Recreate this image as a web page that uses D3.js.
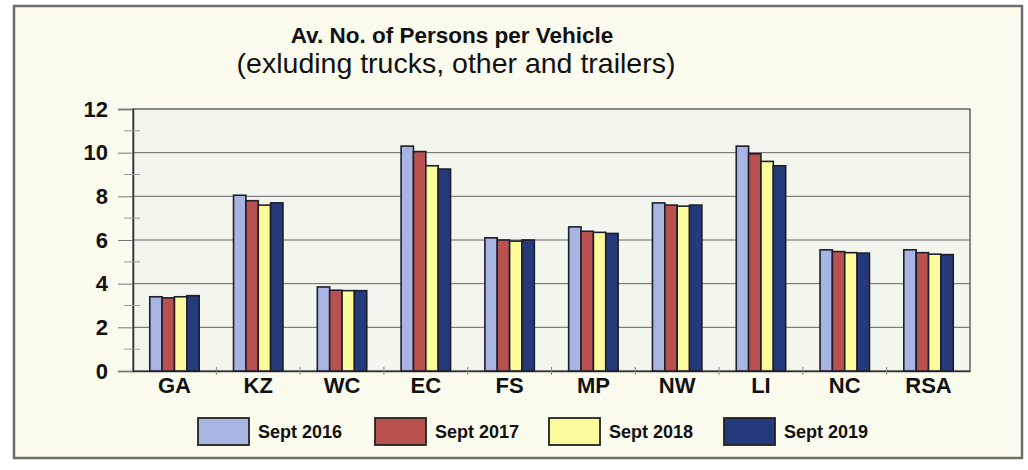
<!DOCTYPE html>
<html>
<head>
<meta charset="UTF-8">
<title>Av. No. of Persons per Vehicle</title>
<script src="https://cdnjs.cloudflare.com/ajax/libs/d3/7.8.5/d3.min.js"></script>
<style>
    body { margin: 0; background: #fff; font-family: "Liberation Sans", Arial, sans-serif; }
    svg { display: block; }
</style>
</head>
<body>
<svg id="chart" width="1028" height="470"></svg>
<script>
// chart data
const regions = ["GA", "KZ", "WC", "EC", "FS", "MP", "NW", "LI", "NC", "RSA"];
const seriesNames = ["Sept 2016", "Sept 2017", "Sept 2018", "Sept 2019"];
const sept2016 = [3.4, 8.05, 3.85, 10.3, 6.1, 6.6, 7.7, 10.3, 5.55, 5.55];
const sept2017 = [3.35, 7.8, 3.7, 10.05, 6.0, 6.4, 7.6, 9.95, 5.47, 5.42];
const sept2018 = [3.4, 7.6, 3.68, 9.4, 5.95, 6.35, 7.55, 9.6, 5.42, 5.35];
const sept2019 = [3.45, 7.7, 3.68, 9.25, 6.0, 6.3, 7.6, 9.4, 5.4, 5.33];
const yTicks = [0, 2, 4, 6, 8, 10, 12];
const colors = ["#a8b5e2", "#b9524f", "#fbfb9c", "#243a7a"];

const series = [sept2016, sept2017, sept2018, sept2019];

const svg = d3.select("#chart");

// outer frame
svg.append("rect")
    .attr("x", 14).attr("y", 6).attr("width", 1008).attr("height", 452)
    .attr("fill", "#fbfbee").attr("stroke", "#6f6f6f").attr("stroke-width", 2.5);

// titles
svg.append("text").attr("x", 452).attr("y", 43).attr("text-anchor", "middle")
    .style("font-size", "22.5px").attr("font-weight", "bold").attr("fill", "#111")
    .text("Av. No. of Persons per Vehicle");
svg.append("text").attr("x", 456).attr("y", 73).attr("text-anchor", "middle")
    .style("font-size", "28.5px").attr("fill", "#111")
    .text("(exluding trucks, other and trailers)");

const plotL = 133, plotR = 970, plotT = 109, plotB = 371;

const x = d3.scaleBand().domain(regions).range([plotL, plotR]).paddingInner(0.41).paddingOuter(0.2);
const xs = d3.scaleBand().domain(d3.range(4)).range([0, x.bandwidth()]);
const y = d3.scaleLinear().domain([0, 12]).range([plotB, plotT]);

// plot area
svg.append("rect")
    .attr("x", plotL).attr("y", plotT).attr("width", plotR - plotL).attr("height", plotB - plotT)
    .attr("fill", "#f3f6ec").attr("stroke", "#444").attr("stroke-width", 1.2);

// gridlines
svg.append("g").selectAll("line").data(yTicks.slice(1, -1)).join("line")
    .attr("x1", plotL).attr("x2", plotR)
    .attr("y1", d => y(d)).attr("y2", d => y(d))
    .attr("stroke", "#666").attr("stroke-width", 1);

// y axis
const yAxis = svg.append("g").attr("transform", `translate(${plotL},0)`)
    .call(d3.axisLeft(y).tickValues(yTicks).tickSize(15).tickPadding(10));
yAxis.select(".domain").attr("stroke", "#333").attr("stroke-width", 1.5);
yAxis.selectAll(".tick line").attr("stroke", "#777");
yAxis.selectAll("text")
    .style("font-size", "22px").style("font-weight", "bold")
    .style("font-family", "'Liberation Sans', Arial, sans-serif").attr("fill", "#111");

// minor ticks
svg.append("g").selectAll("line").data(d3.range(1, 12, 2)).join("line")
    .attr("x1", plotL - 9).attr("x2", plotL + 7)
    .attr("y1", d => y(d)).attr("y2", d => y(d))
    .attr("stroke", "#999").attr("stroke-width", 1);

// x axis
const xAxis = svg.append("g").attr("transform", `translate(0,${plotB})`)
    .call(d3.axisBottom(x).tickSize(0).tickPadding(6));
xAxis.select(".domain").attr("stroke", "#333").attr("stroke-width", 1.5);
xAxis.selectAll("text")
    .style("font-size", "22px").style("font-weight", "bold")
    .style("font-family", "'Liberation Sans', Arial, sans-serif").attr("fill", "#111");

// category separators on x axis
svg.append("g").selectAll("line").data(regions.slice(1)).join("line")
    .attr("x1", d => x(d) - x.step() * x.paddingInner() / 2)
    .attr("x2", d => x(d) - x.step() * x.paddingInner() / 2)
    .attr("y1", plotB - 4).attr("y2", plotB + 4)
    .attr("stroke", "#888");

// bars
const groups = svg.append("g").selectAll("g").data(regions).join("g")
    .attr("transform", d => `translate(${x(d)},0)`);

groups.selectAll("rect")
    .data((d, i) => series.map((s, k) => ({ k, v: s[i] })))
    .join("rect")
    .attr("x", d => xs(d.k))
    .attr("y", d => y(d.v))
    .attr("width", xs.bandwidth())
    .attr("height", d => plotB - y(d.v))
    .attr("fill", d => colors[d.k])
    .attr("stroke", "#1e1e2a").attr("stroke-width", 1.6);

// legend
const legendX = [198, 375, 549, 724];
const legend = svg.append("g").selectAll("g").data(seriesNames).join("g")
    .attr("transform", (d, i) => `translate(${legendX[i]},418)`);
legend.append("rect")
    .attr("width", 51).attr("height", 27)
    .attr("fill", (d, i) => colors[i]).attr("stroke", "#222").attr("stroke-width", 1.8);
legend.append("text")
    .attr("x", 60).attr("y", 20)
    .style("font-size", "18px").attr("font-weight", "bold").attr("fill", "#111")
    .text(d => d);
</script>
</body>
</html>
